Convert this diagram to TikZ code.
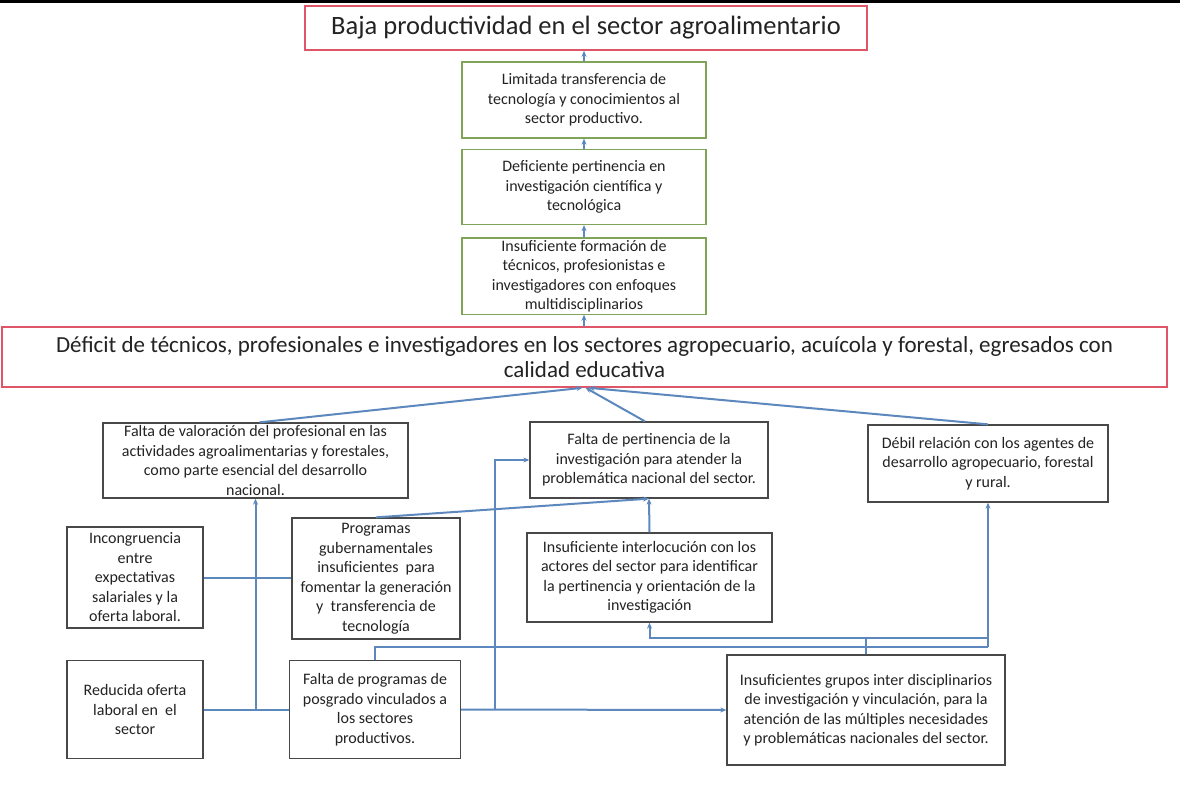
\documentclass[tikz,border=0pt]{standalone}
\usepackage{fontspec}
\setmainfont{Carlito}
\usetikzlibrary{arrows.meta}
\definecolor{arrowblue}{RGB}{92,136,190}
\definecolor{redborder}{RGB}{222,86,104}
\definecolor{greenborder}{RGB}{128,165,88}
\definecolor{darkborder}{RGB}{72,72,72}
\definecolor{textgray}{RGB}{35,35,35}
\tikzset{
  redbox/.style={draw=redborder, line width=1.6pt, fill=white, text=textgray, align=center, inner sep=2pt},
  greenbox/.style={draw=greenborder, line width=1.2pt, fill=white, text=textgray, align=center, inner sep=2pt,
     font=\fontsize{16}{19.5}\selectfont},
  darkbox/.style={draw=darkborder, line width=1.3pt, fill=white, text=textgray, align=center, inner sep=2pt,
     font=\fontsize{16}{19.5}\selectfont},
  conn/.style={draw=arrowblue, line width=2pt},
  arr/.style={conn, -{Stealth[length=6pt,width=5pt]}},
}
\begin{document}
\begin{tikzpicture}[x=1pt,y=-1pt]
\useasboundingbox (0,0) rectangle (1180,809);
\fill[black] (0,0) rectangle (1180,2.5);

% top and green boxes
\node[redbox, minimum width=562pt, minimum height=44pt, font=\fontsize{26.5}{30}\selectfont] (top) at (586,28) {Baja productividad en el sector agroalimentario};
\node[greenbox, minimum width=244pt, minimum height=76pt] (g1) at (584,100) {Limitada transferencia de\\tecnología y conocimientos al\\sector productivo.};
\node[greenbox, minimum width=244pt, minimum height=75pt] (g2) at (584,187) {Deficiente pertinencia en\\investigación científica y\\tecnológica};
\node[greenbox, minimum width=244pt, minimum height=76pt] (g3) at (584,276) {Insuficiente formación de\\técnicos, profesionistas e\\investigadores con enfoques\\multidisciplinarios};
\node[redbox, minimum width=1165pt, minimum height=60pt, font=\fontsize{23}{25}\selectfont] (big) at (584.5,357) {Déficit de técnicos, profesionales e investigadores en los sectores agropecuario, acuícola y forestal, egresados con\\calidad educativa};

% lower boxes
\node[darkbox, minimum width=305pt, minimum height=75pt] (val) at (255.5,460.5) {Falta de valoración del profesional en las\\actividades agroalimentarias y forestales,\\como parte esencial del desarrollo\\nacional.};
\node[darkbox, minimum width=238pt, minimum height=76pt] (pert) at (649,460) {Falta de pertinencia de la\\investigación para atender la\\problemática nacional del sector.};
\node[darkbox, minimum width=240pt, minimum height=77pt] (deb) at (988,463.5) {Débil relación con los agentes de\\desarrollo agropecuario, forestal\\y rural.};
\node[darkbox, minimum width=136pt, minimum height=101pt] (inc) at (135,577.5) {Incongruencia\\entre\\expectativas\\salariales y la\\oferta laboral.};
\node[darkbox, minimum width=168pt, minimum height=121pt] (prog) at (376,578.5) {Programas\\gubernamentales\\insuficientes\ \ para\\fomentar la generación\\y\ \ transferencia de\\tecnología};
\node[darkbox, minimum width=245pt, minimum height=89pt] (inter) at (649.5,577.5) {Insuficiente interlocución con los\\actores del sector para identificar\\la pertinencia y orientación de la\\investigación};
\node[darkbox, minimum width=136pt, minimum height=98pt] (red) at (135,709.5) {Reducida oferta\\laboral en\ \ el\\sector};
\node[darkbox, minimum width=171pt, minimum height=98pt] (pos) at (375,709.5) {Falta de programas de\\posgrado vinculados a\\los sectores\\productivos.};
\node[darkbox, minimum width=278pt, minimum height=110pt] (grp) at (866,710) {Insuficientes grupos inter disciplinarios\\de investigación y vinculación, para la\\atención de las múltiples necesidades\\y problemáticas nacionales del sector.};

% upper chain
\draw[arr] (g1.north) -- (g1.north |- top.south);
\draw[arr] (g2.north) -- (g1.south);
\draw[arr] (g3.north) -- (g2.south);
\draw[arr] (big.north -| g3.south) -- (g3.south);

% into big box
\draw[arr] ([xshift=4pt]val.north) -- ([xshift=-2pt]big.south);
\draw[arr] ([xshift=-4pt]pert.north) -- ([xshift=1pt]big.south);
\draw[arr] (deb.north) -- ([xshift=4pt]big.south);

% into pertinencia
\draw[arr] (prog.north) -- (pert.south);
\draw[arr] (inter.north) -- (pert.south);

% left group
\draw[conn] (inc.east) -- (inc.east -| prog.west);
\draw[conn] (red.east) -- (pos.west);
\draw[arr] (val.south |- red.east) -- (val.south);

% posgrado outputs
\coordinate (j2) at (495,709.5);
\draw[arr] (pos.east) -- (grp.west);
\draw[arr] (j2) |- (pert.west);
\coordinate (c647) at (988,647);
\draw[conn] (pos.north) |- (c647);
\draw[arr] (c647) -- (deb.south);

% grupos outputs
\coordinate (c638) at (866,638);
\draw[conn] (grp.north) -- (c638);
\draw[arr] (c638) -| (inter.south);
\draw[conn] (c638) -- (c638 -| deb.south);
\end{tikzpicture}
\end{document}
